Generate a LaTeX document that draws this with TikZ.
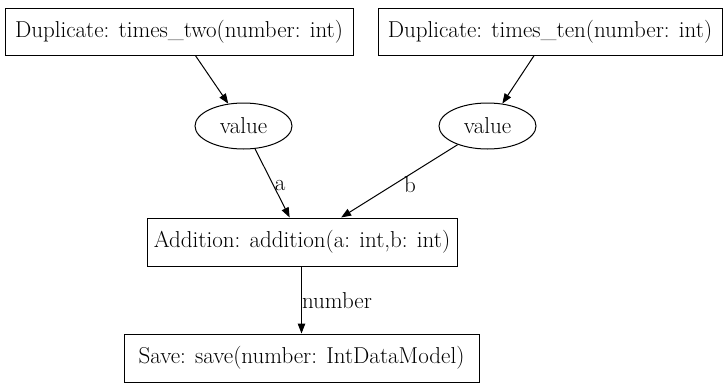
\documentclass[tikz,border=0pt]{standalone}
\usepackage{fontspec}
\usetikzlibrary{arrows.meta,shapes.geometric}

\begin{document}
\begin{tikzpicture}[x=1pt,y=-1pt,>={Triangle[length=10pt,width=7.5pt]},line width=1pt,
  every node/.style={font=\fontsize{23}{27}\selectfont},
  fnbox/.style={draw,rectangle,minimum height=47pt,inner sep=0pt},
  valnode/.style={draw,ellipse,minimum width=97pt,minimum height=46pt,inner sep=0pt},
  lbl/.style={inner sep=2pt}]
\useasboundingbox (0,0) rectangle (727,388);
\node[fnbox,minimum width=348pt] (two) at (179,31.5) {Duplicate: times\_two(number: int)};
\node[fnbox,minimum width=344pt] (ten) at (550,31.5) {Duplicate: times\_ten(number: int)};
\node[valnode] (va) at (243.5,126) {value};
\node[valnode] (vb) at (487.5,126) {value};
\node[fnbox,minimum width=310pt,minimum height=48pt] (add) at (302,242) {Addition: addition(a: int,b: int)};
\node[fnbox,minimum width=355pt,minimum height=48pt] (save) at (301.5,358) {Save: save(number: IntDataModel)};
% edges
\draw[->] (two) -- (va);
\draw[->] (ten) -- (vb);
\draw[->] (va) -- node[lbl,right,yshift=-2pt] (la) {a} (add);
\draw[->] (vb) -- node[lbl,right,pos=0.55,xshift=8pt] (lb) {b} (add);
\draw[->] (add.south -| save.north) -- node[right,inner sep=0pt,yshift=-1pt] (ln) {number} (save.north);
\end{tikzpicture}
\end{document}
